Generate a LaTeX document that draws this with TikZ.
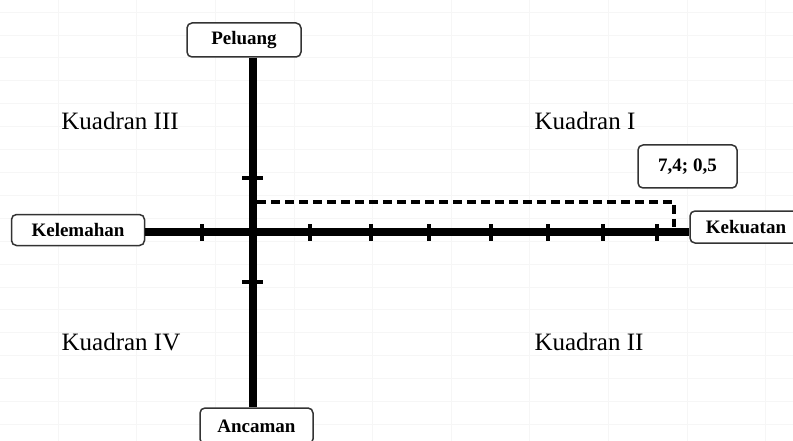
\documentclass[tikz,border=0pt]{standalone}
\usepackage{fontspec}
\setmainfont{Liberation Serif}
\begin{document}
\begin{tikzpicture}[x=1pt,y=-1pt,
  labbox/.style={draw=black!80, line width=1.5pt, rounded corners=5pt, fill=white,
    font=\fontsize{19}{21}\selectfont\bfseries, inner sep=0pt},
  quad/.style={font=\fontsize{25}{28}\selectfont, inner sep=0pt},
  axisline/.style={line width=7.5pt},
  tickline/.style={line width=3.5pt},
  dashline/.style={line width=3.5pt, dash pattern=on 9pt off 5pt},
  gridline/.style={draw=gray!7, line width=0.6pt}]
\useasboundingbox (0,0) rectangle (793,441);
% faint background grid
\foreach \gx in {58,136.6,215.2,293.8,372.4,451,529.6,608.2,686.8,765.4}
  \draw[gridline] (\gx,0) -- (\gx,441);
\foreach \k in {0,...,18}
  \draw[gridline] (0,12+22.9*\k) -- (793,12+22.9*\k);
% boxes
\node[labbox, minimum width=114pt, minimum height=34pt] (pel) at (244,40) {Peluang};
\node[labbox, minimum width=133pt, minimum height=31pt] (kel) at (78,230) {Kelemahan};
\node[labbox, minimum width=112pt, minimum height=32pt] (kek) at (746,227) {Kekuatan};
\node[labbox, minimum width=113pt, minimum height=36pt] (anc) at (256.5,426) {Ancaman};
\node[labbox, minimum width=99pt, minimum height=43pt] (val) at (687.5,166.5) {7,4; 0,5};
% quadrant labels
\node[quad] (q3) at (120,121) {Kuadran III};
\node[quad] (q1) at (585,121) {Kuadran I};
\node[quad] (q4) at (121,342) {Kuadran IV};
\node[quad] (q2) at (589,342) {Kuadran II};
% axes
\coordinate (o) at (253,232);
\draw[axisline] (kel.east |- o) -- (kek.west |- o);
\draw[axisline] (pel.south -| o) -- (anc.north -| o);
% ticks
\foreach \tx in {202,310,371,429,491,548,603,657}
  \draw[tickline] (\tx,224) -- (\tx,241);
\foreach \ty in {178,282}
  \draw[tickline] (242,\ty) -- (263,\ty);
% dashed position line
\coordinate (ds) at (257,202);
\coordinate (p) at (674,202);
\coordinate (pe) at (674,227);
\draw[dashline] (ds) -- (p) -- (pe);
\end{tikzpicture}
\end{document}
